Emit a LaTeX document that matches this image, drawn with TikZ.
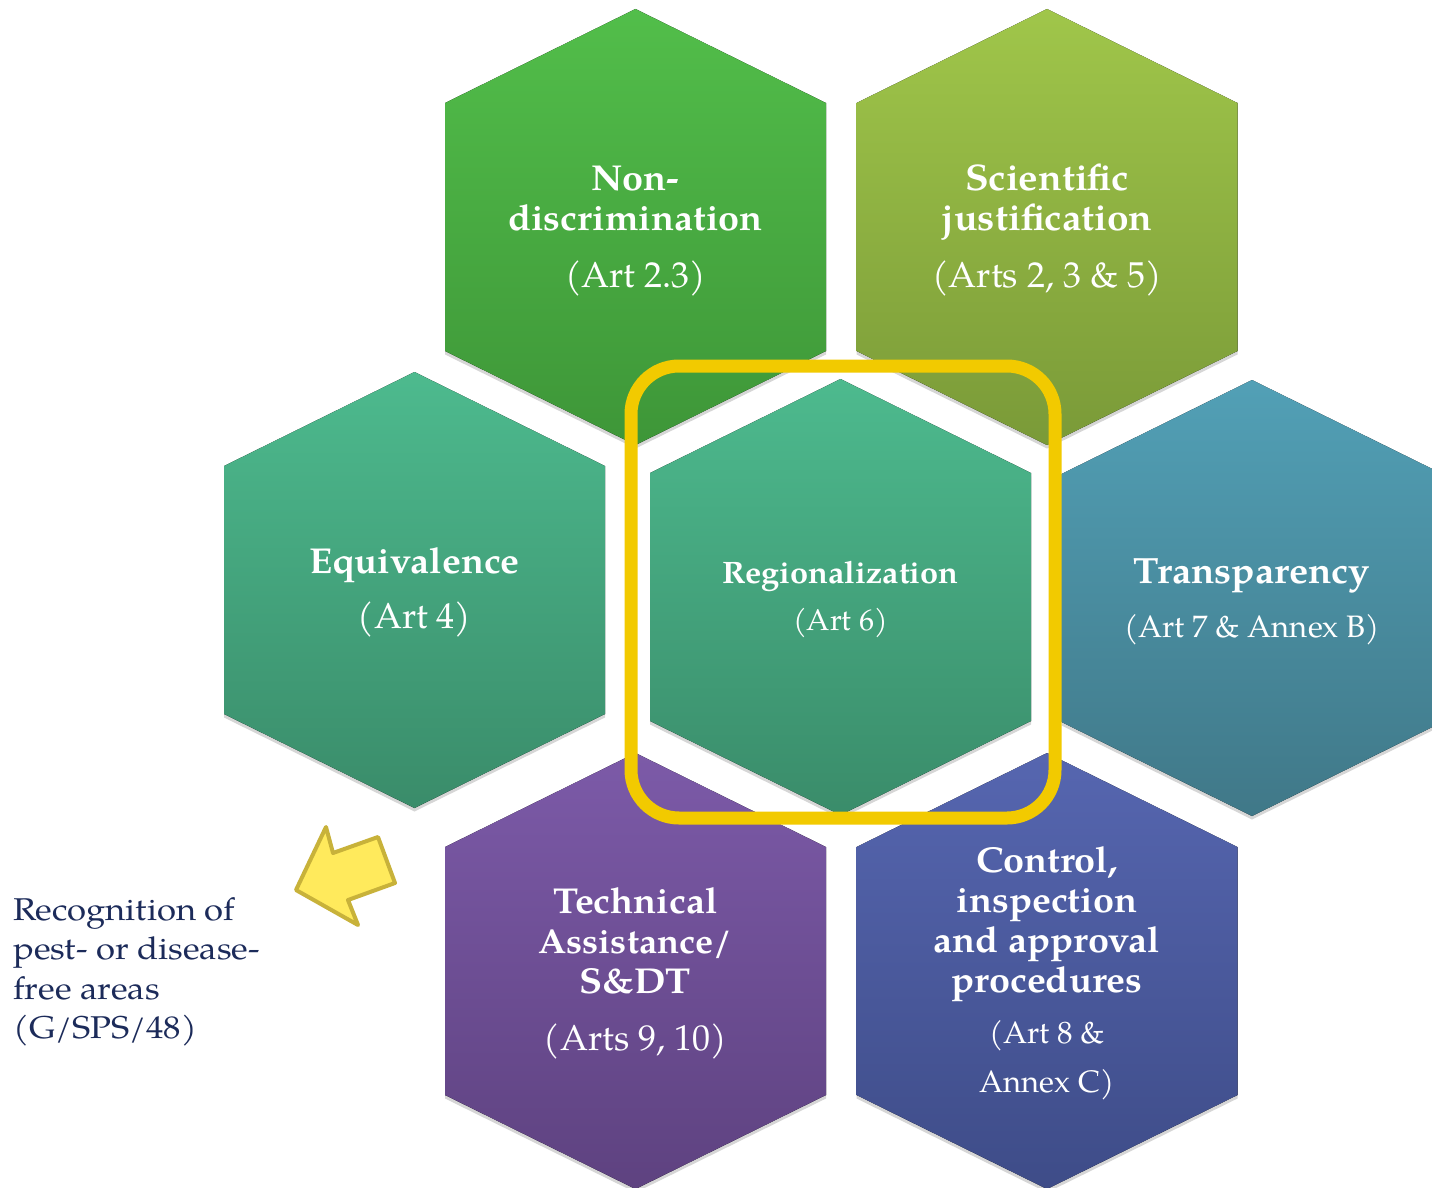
\documentclass[tikz,border=0pt]{standalone}
\usepackage{fontspec}
\setmainfont{texgyrepagella}[Extension=.otf, UprightFont=*-regular, BoldFont=*-bold, ItalicFont=*-italic, BoldItalicFont=*-bolditalic, BoldFeatures={FakeStretch=1.05}]
\newfontfamily\sidefont{texgyrepagella}[Extension=.otf, UprightFont=*-regular, BoldFont=*-bold, FakeStretch=1.1]
\definecolor{ndtop}{RGB}{82,190,74}\definecolor{ndbot}{RGB}{62,150,56}
\definecolor{sjtop}{RGB}{160,198,74}\definecolor{sjbot}{RGB}{122,154,56}
\definecolor{eqtop}{RGB}{77,186,142}\definecolor{eqbot}{RGB}{58,140,106}
\definecolor{trtop}{RGB}{82,160,182}\definecolor{trbot}{RGB}{64,120,136}
\definecolor{tatop}{RGB}{124,90,168}\definecolor{tabot}{RGB}{94,66,128}
\definecolor{cttop}{RGB}{86,102,176}\definecolor{ctbot}{RGB}{62,76,136}
\definecolor{gold}{RGB}{242,202,0}
\definecolor{arrowfill}{RGB}{255,234,92}
\definecolor{arrowline}{RGB}{200,178,58}
\definecolor{navy}{RGB}{28,43,90}
\newcommand\hexcell[4]{%
  \begin{scope}[shift={(#2,#3)}]
    \coordinate (#1) at (0,0);
    \fill[hexshadow] (-190.5,-124) -- (0,-218) -- (190.5,-124) -- (190.5,124) -- (0,218) -- (-190.5,124) -- cycle;
    \fill[top color=#4top, bottom color=#4bot] (-190.5,-124) -- (0,-218) -- (190.5,-124) -- (190.5,124) -- (0,218) -- (-190.5,124) -- cycle;
  \end{scope}}
\newcommand\ttl[1]{\textbf{#1}}
\begin{document}
\begin{tikzpicture}[x=1pt,y=-1pt,
  hexshadow/.style={black, opacity=0.16, shift={(0,3.5)}},
  hlabel/.style={text=white, inner sep=0pt, anchor=base},
  yellowbox/.style={draw=gold, line width=13pt, rounded corners=48pt},
  bigarrow/.style={fill=arrowfill, draw=arrowline, line width=4pt, line join=round},
  sidetext/.style={text=navy, inner sep=0pt, anchor=base west}]
\useasboundingbox (0,0) rectangle (1432,1188);
\clip (0,0) rectangle (1432,1188);
\fill[white] (0,0) rectangle (1432,1188);

\hexcell{nd}{635.5}{227}{nd}
\hexcell{sj}{1047}{227}{sj}
\hexcell{eq}{414.5}{590}{eq}
\hexcell{rg}{840.5}{597}{eq}
\hexcell{tr}{1252}{598}{tr}
\hexcell{ta}{635.5}{971}{ta}
\hexcell{ct}{1047}{971}{ct}

\draw[yellowbox] (631,366) rectangle (1055,818);

\draw[bigarrow] (296,890) -- (326,827) -- (333,853) -- (378,837) -- (395,883) -- (348,900) -- (358,925) -- cycle;

\node[hlabel] (ndtext) at (635.5,190) {\fontsize{36}{40}\selectfont
  \begin{tabular}[t]{@{}c@{}}\ttl{Non-}\\ \ttl{discrimination}\\[17pt] (Art 2.3)\end{tabular}};
\node[hlabel] (sjtext) at (1047,190) {\fontsize{36}{40}\selectfont
  \begin{tabular}[t]{@{}c@{}}\fontsize{37}{40}\selectfont\ttl{Scientific}\\ \fontsize{37}{40}\selectfont\ttl{justification}\\[17pt] (Arts 2, 3 \& 5)\end{tabular}};
\node[hlabel] (eqtext) at (414.5,573) {\fontsize{36}{40}\selectfont
  \begin{tabular}[t]{@{}c@{}}\ttl{Equivalence}\\[15pt] (Art 4)\end{tabular}};
\node[hlabel] (rgtext) at (840.5,583) {\fontsize{31}{40}\selectfont
  \begin{tabular}[t]{@{}c@{}}\ttl{Regionalization}\\[7pt] \fontsize{30}{40}\selectfont (Art 6)\end{tabular}};
\node[hlabel] (trtext) at (1252,583) {\fontsize{36}{40}\selectfont
  \begin{tabular}[t]{@{}c@{}}\fontsize{36.5}{40}\selectfont\ttl{Transparency}\\[14pt] \fontsize{31}{40}\selectfont (Art 7 \& Annex B)\end{tabular}};
\node[hlabel] (tatext) at (635.5,913) {\fontsize{36}{40}\selectfont
  \begin{tabular}[t]{@{}c@{}}\ttl{Technical}\\ \fontsize{34.5}{40}\selectfont\ttl{Assistance/}\\ \ttl{S\&DT}\\[17pt] (Arts 9, 10)\end{tabular}};
\node[hlabel] (cttext) at (1047,872) {\fontsize{36}{40}\selectfont
  \begin{tabular}[t]{@{}c@{}}\ttl{Control,}\\ \ttl{inspection}\\ \ttl{and approval}\\ \ttl{procedures}\\[11pt]
  \fontsize{31}{40}\selectfont (Art 8 \&\\[9pt] \fontsize{31}{40}\selectfont Annex C)\end{tabular}};

\node[sidetext] (note) at (13,920) {\sidefont\fontsize{31.5}{39.5}\selectfont
  \begin{tabular}[t]{@{}l@{}}Recognition of\\ pest- or disease-\\ free areas\\ (G/SPS/48)\end{tabular}};
\end{tikzpicture}
\end{document}
